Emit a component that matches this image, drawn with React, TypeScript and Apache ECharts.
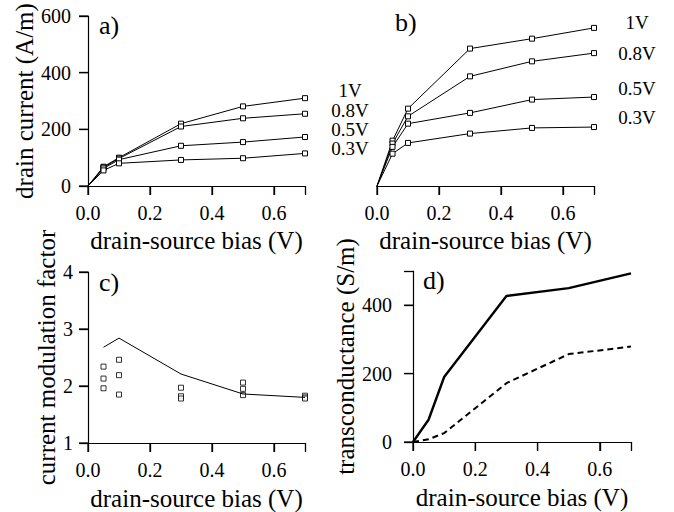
import React, { useEffect, useRef } from "react";
import * as echarts from "echarts";

const FONT = "Liberation Serif";

const biasV = [0, 0.05, 0.1, 0.3, 0.5, 0.7];
const gateLabels = ["1V", "0.8V", "0.5V", "0.3V"];

// panel a) drain current (A/m)
const currentA_1V = [0, 68, 100, 220, 281, 310];
const currentA_08V = [0, 66, 97, 210, 239, 255];
const currentA_05V = [0, 62, 93, 142, 155, 173];
const currentA_03V = [0, 55, 80, 92, 98, 115];

// panel b) drain current (A/m)
const currentB_1V = [0, 160, 273, 485, 520, 558];
const currentB_08V = [0, 150, 246, 387, 440, 469];
const currentB_05V = [0, 138, 220, 258, 305, 314];
const currentB_03V = [0, 114, 152, 185, 205, 208];

// panel c) current modulation factor
const modBias = [0.05, 0.1, 0.3, 0.5, 0.7];
const modLine = [2.68, 2.84, 2.21, 1.86, 1.8];
const modPointsX = [0.05, 0.05, 0.05, 0.1, 0.1, 0.1, 0.3, 0.3, 0.3, 0.5, 0.5, 0.5, 0.7, 0.7, 0.7];
const modPointsY = [2.34, 2.13, 1.96, 2.46, 2.19, 1.85, 1.97, 1.82, 1.78, 2.06, 1.95, 1.84, 1.83, 1.8, 1.78];

// panel d) transconductance (S/m)
const gmSolid = [0, 65, 190, 427, 450, 493];
const gmDashed = [0, 8, 26, 172, 257, 279];

// tick values
const xTicks = [0, 0.2, 0.4, 0.6];
const yTicksA = [0, 200, 400, 600];
const yTicksC = [1, 2, 3, 4];
const yTicksD = [0, 200, 400];

const xMaxLabel = 0.6;
const yMaxLabelD = 400;

const xTitle = "drain-source bias (V)";

function pairs(xs: number[], ys: number[], hideFirst: boolean) {
  return xs.map((x, i) =>
    hideFirst && i === 0 ? { value: [x, ys[i]], symbol: "none" } : { value: [x, ys[i]] }
  );
}

export default function App() {
  const ref = useRef<HTMLDivElement>(null);
  useEffect(() => {
    if (!ref.current) return;
    const chart = echarts.init(ref.current, null, { renderer: "svg" });

    const axisLine = () => ({ show: true, lineStyle: { color: "#000", width: 1.2 } });
    const tick = () => ({
      show: true,
      length: 9,
      lineStyle: { color: "#000", width: 1.3 },
    });
    const lab = (margin: number, fmt: (v: number) => string) => ({
      show: true,
      margin,
      color: "#000",
      fontFamily: FONT,
      fontSize: 20,
      formatter: fmt,
    });
    const nameStyle = () => ({ color: "#000", fontFamily: FONT, fontSize: 25 });

    const xAxisDef = (gridIndex: number, gap: number) => ({
      type: "value",
      gridIndex,
      min: 0,
      max: 0.7,
      interval: 0.2,
      axisLine: axisLine(),
      axisTick: tick(),
      axisLabel: lab(17, (v: number) => (v > xMaxLabel + 1e-9 ? "" : v.toFixed(1))),
      splitLine: { show: false },
      name: xTitle,
      nameLocation: "middle",
      nameGap: gap,
      nameTextStyle: nameStyle(),
    });

    const lineSeries = (xi: number, data: any, width = 1, type: any = "solid", symbol = "rect") => ({
      type: "line",
      xAxisIndex: xi,
      yAxisIndex: xi,
      data,
      symbol,
      symbolSize: 5,
      showSymbol: symbol !== "none",
      lineStyle: { color: "#000", width, type },
      itemStyle: { color: "#fff", borderColor: "#000", borderWidth: 1 },
      silent: true,
    });

    // tick marks drawn through the axes' own scales
    const tickSeries = (gi: number, vals: number[], fixed: number, dir: "x" | "y") => ({
      type: "custom",
      xAxisIndex: gi,
      yAxisIndex: gi,
      clip: false,
      silent: true,
      z: 5,
      data: vals.map((v) => (dir === "x" ? [v, fixed] : [fixed, v])),
      renderItem: (params: any, api: any) => {
        const p = api.coord([api.value(0), api.value(1)]);
        const shape =
          dir === "x"
            ? { x1: p[0], y1: p[1], x2: p[0], y2: p[1] + 9 }
            : { x1: p[0] - 9, y1: p[1], x2: p[0], y2: p[1] };
        return { type: "line", shape, style: { stroke: "#000", lineWidth: 1.2 } };
      },
    });

    const labelText = (x: number, y: number, text: string, size = 19, align = "center") => ({
      type: "text",
      x,
      y,
      style: {
        text,
        fill: "#000",
        font: `${size}px "${FONT}"`,
        textAlign: align,
        textVerticalAlign: "middle",
      },
    });

    const labelsA = [90, 110, 129, 148];
    const labelsB = [22, 53, 88, 117];

    chart.setOption({
      animation: false,
      backgroundColor: "#fff",
      grid: [
        { left: 88, top: 16, width: 217, height: 170 },
        { left: 377, top: 16, width: 217, height: 170 },
        { left: 88, top: 272, width: 217, height: 171 },
        { left: 413, top: 271, width: 218, height: 171 },
      ],
      xAxis: [xAxisDef(0, 42), xAxisDef(1, 42), xAxisDef(2, 43), xAxisDef(3, 43)],
      yAxis: [
        {
          type: "value",
          gridIndex: 0,
          min: 0,
          max: 600,
          interval: 200,
          axisLine: axisLine(),
          axisTick: tick(),
          axisLabel: lab(17, (v: number) => String(v)),
          splitLine: { show: false },
          name: "drain current (A/m)",
          nameLocation: "middle",
          nameGap: 50,
          nameTextStyle: nameStyle(),
        },
        {
          type: "value",
          gridIndex: 1,
          min: 0,
          max: 600,
          interval: 200,
          axisLine: { show: false },
          axisTick: { show: false },
          axisLabel: { show: false },
          splitLine: { show: false },
        },
        {
          type: "value",
          gridIndex: 2,
          min: 1,
          max: 4,
          interval: 1,
          axisLine: axisLine(),
          axisTick: tick(),
          axisLabel: lab(15, (v: number) => String(v)),
          splitLine: { show: false },
          name: "current modulation factor",
          nameLocation: "middle",
          nameGap: 28,
          nameTextStyle: nameStyle(),
        },
        {
          type: "value",
          gridIndex: 3,
          min: 0,
          max: 500,
          interval: 200,
          axisLine: axisLine(),
          axisTick: tick(),
          axisLabel: lab(21, (v: number) => (v > yMaxLabelD ? "" : String(v))),
          splitLine: { show: false },
          name: "transconductance (S/m)",
          nameLocation: "middle",
          nameGap: 48,
          nameTextStyle: nameStyle(),
        },
      ],
      series: [
        lineSeries(0, pairs(biasV, currentA_1V, true)),
        lineSeries(0, pairs(biasV, currentA_08V, true)),
        lineSeries(0, pairs(biasV, currentA_05V, true)),
        lineSeries(0, pairs(biasV, currentA_03V, true)),
        lineSeries(1, pairs(biasV, currentB_1V, true)),
        lineSeries(1, pairs(biasV, currentB_08V, true)),
        lineSeries(1, pairs(biasV, currentB_05V, true)),
        lineSeries(1, pairs(biasV, currentB_03V, true)),
        lineSeries(2, pairs(modBias, modLine, false), 1, "solid", "none"),
        {
          type: "scatter",
          xAxisIndex: 2,
          yAxisIndex: 2,
          data: pairs(modPointsX, modPointsY, false),
          symbol: "rect",
          symbolSize: 5,
          itemStyle: { color: "#fff", borderColor: "#000", borderWidth: 1 },
          silent: true,
        },
        lineSeries(3, pairs(biasV, gmSolid, false), 2.4, "solid", "none"),
        lineSeries(3, pairs(biasV, gmDashed, false), 2, [6, 4], "none"),
        tickSeries(0, xTicks, 0, "x"),
        tickSeries(1, xTicks, 0, "x"),
        tickSeries(2, xTicks, 1, "x"),
        tickSeries(3, xTicks, 0, "x"),
        tickSeries(0, yTicksA, 0, "y"),
        tickSeries(2, yTicksC, 0, "y"),
        tickSeries(3, yTicksD, 0, "y"),
      ],
      graphic: [
        labelText(99, 25, "a)", 26, "left"),
        labelText(395, 22, "b)", 26, "left"),
        labelText(99, 282, "c)", 26, "left"),
        labelText(423, 280, "d)", 26, "left"),
        ...gateLabels.map((t, i) => labelText(350, labelsA[i], t)),
        ...gateLabels.map((t, i) => labelText(637, labelsB[i], t)),
      ],
    });
    return () => chart.dispose();
  }, []);
  return (
    <div
      ref={ref}
      style={{ position: "absolute", left: 0, top: 0, width: 674, height: 512, background: "#fff" }}
    />
  );
}
